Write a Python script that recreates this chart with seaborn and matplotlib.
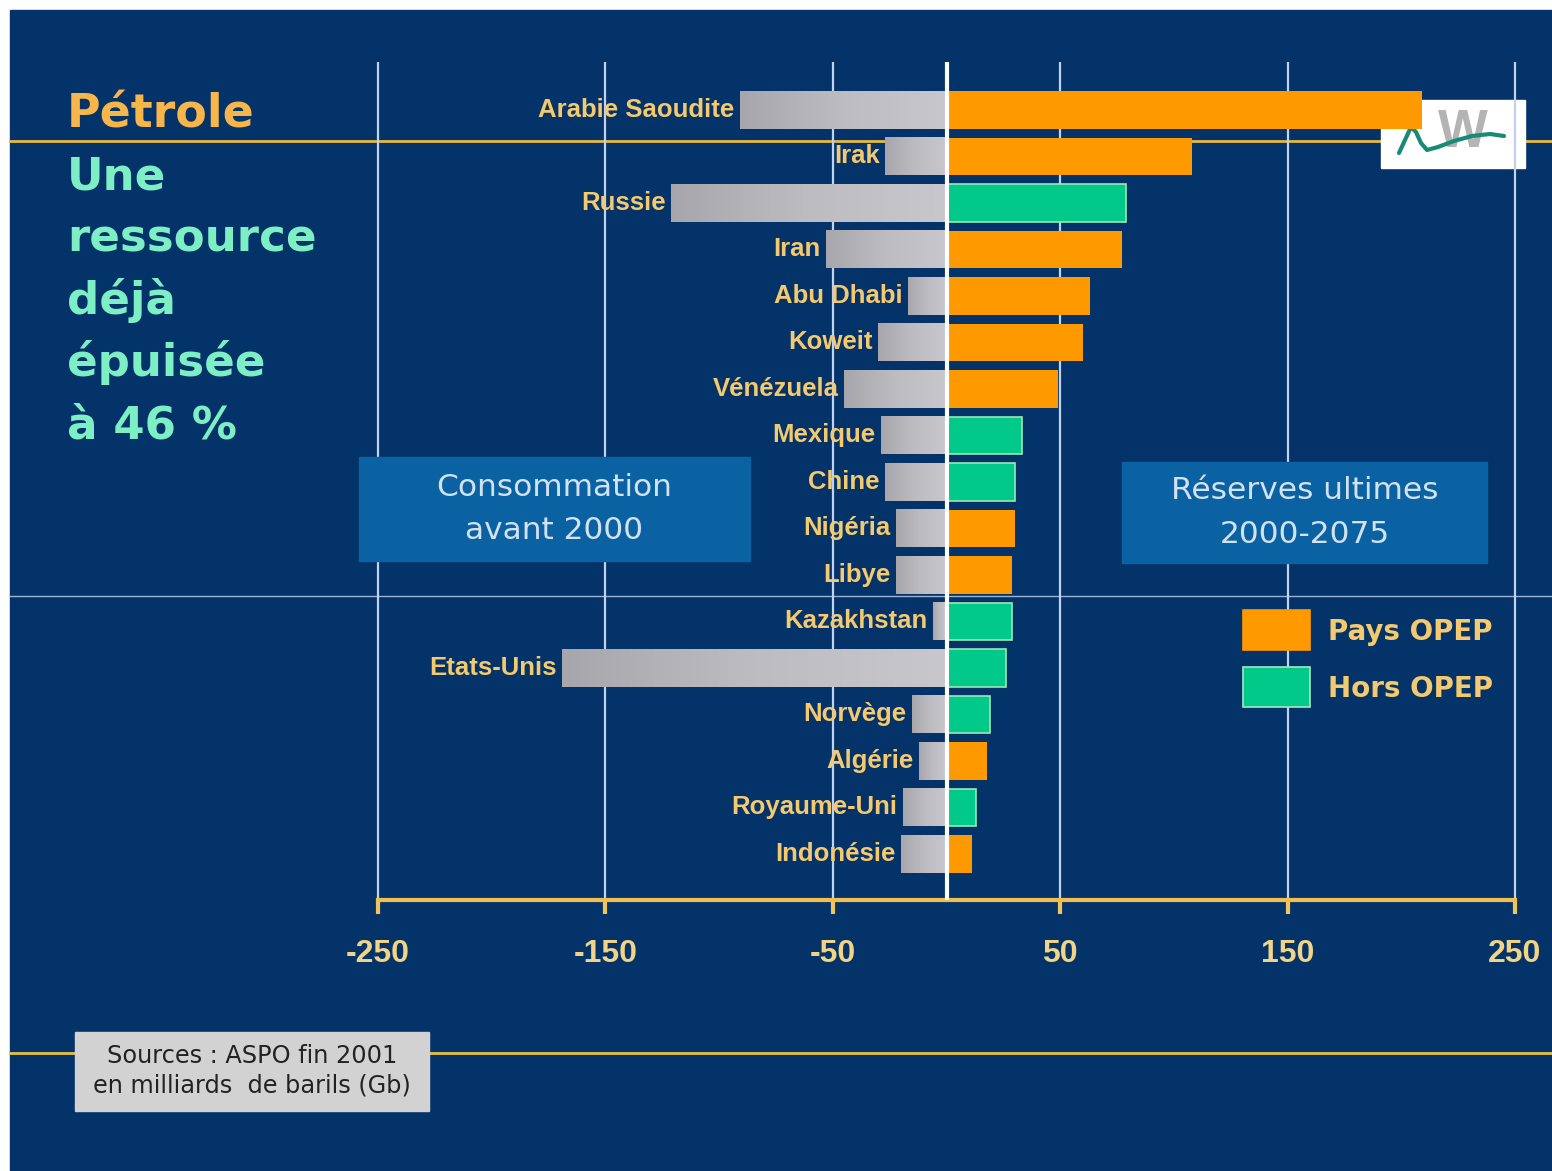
import numpy as np
import pandas as pd
import matplotlib
matplotlib.use("Agg")
import matplotlib.pyplot as plt
import seaborn as sns
from matplotlib.patches import Rectangle
from matplotlib.lines import Line2D
from matplotlib.colors import LinearSegmentedColormap

pays = ['Arabie Saoudite', 'Irak', 'Russie', 'Iran', 'Abu Dhabi', 'Koweit', 'Vénézuela',
        'Mexique', 'Chine', 'Nigéria', 'Libye', 'Kazakhstan', 'Etats-Unis', 'Norvège',
        'Algérie', 'Royaume-Uni', 'Indonésie']
consommation = [91, 27, 121, 53, 17, 30, 45, 29, 27, 22, 22, 6, 169, 15, 12, 19, 20]
reserves = [209, 108, 79, 77, 63, 60, 49, 33, 30, 30, 29, 29, 26, 19, 18, 13, 11]
groupe = ['Pays OPEP', 'Pays OPEP', 'Hors OPEP', 'Pays OPEP', 'Pays OPEP', 'Pays OPEP',
          'Pays OPEP', 'Hors OPEP', 'Hors OPEP', 'Pays OPEP', 'Pays OPEP', 'Hors OPEP',
          'Hors OPEP', 'Hors OPEP', 'Pays OPEP', 'Hors OPEP', 'Pays OPEP']
graduations = [-250, -150, -50, 50, 150, 250]

# Couleurs
NAVY = '#033369'
ORANGE = '#ff9900'
VERT = '#00c98a'
GRIS = '#b4b4b8'
LABEL = '#f5c96e'
MENTHE = '#7eeec4'
ETROIT = ['Liberation Sans', 'DejaVu Sans']

df = pd.DataFrame({'Pays': pays, 'Consommation': consommation,
                   'Reserves': reserves, 'Groupe': groupe})
df['Conso_neg'] = -df['Consommation']

W, H = 1552, 1171
def fx(px):
    return px / W
def fy(py):
    return 1 - py / H

fig = plt.figure(figsize=(15.52, 11.71), dpi=100, facecolor='white')
fig.patches.append(Rectangle((fx(10), 0), 1 - fx(10), fy(10), transform=fig.transFigure,
                             color=NAVY, zorder=-10))

# lignes du modèle de diapo
for py, col, lw in [(141, '#e8b840', 2), (596, '#9fb2d4', 1), (1053, '#e8c040', 2)]:
    fig.lines.append(Line2D([fx(10), 1], [fy(py), fy(py)], transform=fig.transFigure,
                            color=col, lw=lw, zorder=-2))

# logo
fig.patches.append(Rectangle((fx(1381), fy(168)), fx(1525) - fx(1381), fy(100) - fy(168),
                             transform=fig.transFigure, color='white', zorder=-1))
fig.text(fx(1463), fy(133), 'W', ha='center', va='center', fontsize=38, fontweight='bold',
         family=ETROIT, color='#b4b4b4', zorder=-0.9)
logo_x = [1399, 1405, 1411, 1416, 1421, 1427, 1438, 1454, 1472, 1490, 1504]
logo_y = [153, 140, 127, 132, 143, 150, 147, 141, 136, 134, 136]
fig.lines.append(Line2D([fx(v) for v in logo_x], [fy(v) for v in logo_y],
                        transform=fig.transFigure, color='#1a8a78', lw=3,
                        solid_capstyle='round', solid_joinstyle='round', zorder=-0.8))

ax = fig.add_axes([fx(378), fy(900), fx(1515) - fx(378), fy(62) - fy(900)])
ax.patch.set_alpha(0)

sns.barplot(data=df, x='Conso_neg', y='Pays', color=GRIS, saturation=1, width=0.8,
            orient='h', ax=ax)
gris_patches = list(ax.patches)
sns.barplot(data=df, x='Reserves', y='Pays', hue='Groupe',
            palette={'Pays OPEP': ORANGE, 'Hors OPEP': VERT}, saturation=1, width=0.8,
            dodge=False, legend=False, orient='h', ax=ax)
for p in ax.patches[len(gris_patches):]:
    p.set_linewidth(0)
    if np.allclose(p.get_facecolor()[:3], matplotlib.colors.to_rgb(VERT)):
        p.set_edgecolor('#9be8b4')
        p.set_linewidth(1.2)

# dégradé argenté sur les barres de consommation
argent = LinearSegmentedColormap.from_list('argent', ['#a6a6ac', '#bdbdc1', '#c8c8cc'])
grad = np.linspace(0, 1, 256).reshape(1, -1)
for p in gris_patches:
    bb = p.get_bbox()
    ax.imshow(grad, extent=(min(bb.x0, bb.x1), max(bb.x0, bb.x1), bb.y1, bb.y0),
              aspect='auto', cmap=argent, clip_path=p, zorder=p.get_zorder() + 0.1)

# quadrillage et axe central
ax.vlines(graduations, ymin=-1.03, ymax=16.99, colors='#c0d2ee', lw=1.6, zorder=0.5,
          clip_on=False)
ax.axvline(0, color='white', lw=3, zorder=5)

ax.set_xlim(-250, 250)
ax.set_ylim(16.99, -1.03)
ax.set_yticks([])
ax.set_xlabel('')
ax.set_ylabel('')
for s in ['left', 'right', 'top']:
    ax.spines[s].set_visible(False)
ax.spines['bottom'].set_color('#f2bf4c')
ax.spines['bottom'].set_linewidth(3)
ax.set_xticks(graduations, labels=[str(g) for g in graduations])
ax.tick_params(axis='x', colors='#f2c45a', length=10, width=3, pad=18,
               labelcolor='#f2d486', labelsize=23)
for lbl in ax.get_xticklabels():
    lbl.set_fontfamily(ETROIT)
    lbl.set_fontweight('bold')

# noms des pays
for i, (nom, c) in enumerate(zip(pays, consommation)):
    ax.annotate(nom, xy=(-c, i), xytext=(-4, 0), textcoords='offset points',
                ha='right', va='center', color=LABEL, fontsize=18.5, fontweight='bold',
                family=ETROIT, zorder=6)

# titre
fig.text(fx(67), fy(127), 'Pétrole', color='#f7b54a', fontsize=33, fontweight='bold',
         family='DejaVu Sans', va='baseline')
for k, ligne in enumerate(['Une', 'ressource', 'déjà', 'épuisée', 'à 46 %']):
    fig.text(fx(67), fy(190 + 62 * k), ligne, color=MENTHE, fontsize=32.5,
             fontweight='bold', family='DejaVu Sans', va='baseline')

# encadrés
for (x0, y0, x1, y1), txt in [((359, 457, 750, 561), 'Consommation\navant 2000'),
                              ((1122, 462, 1487, 563), 'Réserves ultimes\n2000-2075')]:
    fig.patches.append(Rectangle((fx(x0), fy(y1)), fx(x1) - fx(x0), fy(y0) - fy(y1),
                                 transform=fig.transFigure, color='#0b62a2', zorder=1))
    fig.text(fx((x0 + x1) / 2), fy((y0 + y1) / 2), txt, ha='center', va='center',
             color='#d2e2f2', fontsize=22.5, linespacing=1.62, family='DejaVu Sans',
             zorder=2)

# légende
for py, col, txt in [(610, ORANGE, 'Pays OPEP'), (667, VERT, 'Hors OPEP')]:
    fig.patches.append(Rectangle((fx(1243), fy(py + 40)), fx(1310) - fx(1243),
                                 fy(py) - fy(py + 40), transform=fig.transFigure,
                                 facecolor=col, edgecolor='#a8e8c0' if col == VERT else col,
                                 lw=1.2, zorder=2))
    fig.text(fx(1328), fy(py + 22), txt, ha='left', va='center', color=LABEL,
             fontsize=20, fontweight='bold', family='DejaVu Sans')

# sources
fig.patches.append(Rectangle((fx(75), fy(1111)), fx(429) - fx(75), fy(1032) - fy(1111),
                             transform=fig.transFigure, color='#d2d2d2', zorder=2))
fig.text(fx(252), fy(1071), 'Sources : ASPO fin 2001\nen milliards  de barils (Gb)',
         ha='center', va='center', color='#222222', fontsize=17.3, linespacing=1.3,
         family='DejaVu Sans', zorder=3)

fig.savefig('out.png', dpi=100, facecolor=fig.get_facecolor())
